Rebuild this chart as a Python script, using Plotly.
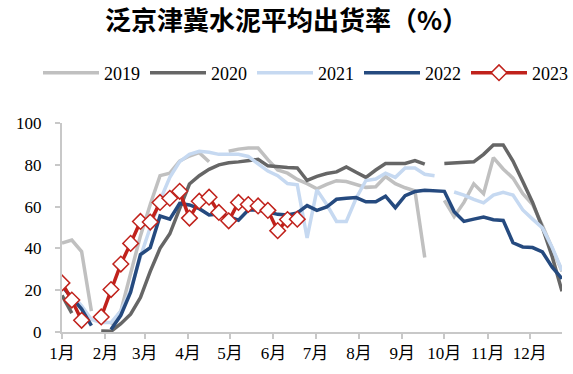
import datetime as dt
import plotly.graph_objects as go

# Weekly average cement shipment rate (%) for the greater Beijing-Tianjin-Hebei region.
# Each list holds one value per week, starting from the first week of January;
# None marks weeks with no survey (holidays), which leave a gap in the line.
years = ["2019", "2020", "2021", "2022", "2023"]

rate_2019 = [42.5, 44, 38.5, 10, None, 3.5, 10, 28, 46, 61,
             74.8, 76, 81.8, 84.2, 85.8, 81.5, None, 86.5, 87.5, 88,
             88, 82.5, 77.5, 76, 73, 71, 68.5, 70.6, 72.4, 72,
             70.6, 69.2, 69.5, 74.4, 71, 69, 67.5, 35.7, None, 63,
             55.2, 62, 70.9, 66.2, 83.4, 78, 73.6, 66.2, 61, 51,
             39.6, 29]

rate_2020 = [17.5, 9, None, None, 0.5, 0.3, 4, 8.5, 16.5, 29,
             40, 47, 59, 70.8, 74.8, 77.8, 80, 81, 81.4, 82,
             82.6, 79.5, 79, 78.7, 78.5, 72.5, 74.5, 75.8, 76.6, 79,
             76.4, 74, 77.5, 80.6, 80.6, 80.6, 82, 80.3, None, 80.6,
             81, 81.2, 81.4, 85, 89.5, 89.5, 81.8, 72, 62, 50,
             36, 19.5]

rate_2021 = [None, 18, 12.5, 6, 4.5, 4.5, 10, 20, 36, 50,
             63, 74, 81.5, 85, 86.5, 86, 85, 85, 85, 84,
             80.5, 77, 74.8, 71, 70.4, 45, 68, 61, 52.9, 52.9,
             64, 72.5, 73.2, 76, 74, 78.5, 78.5, 75.5, 74.8, None,
             67, 65.5, 63.5, 61.8, 65.5, 66.8, 65.5, 58.4, 54, 49.8,
             40.4, 29.4]

rate_2022 = [22, 16.5, 11, 3, None, 1.2, 8, 19, 37, 40.4,
             55.5, 54, 61.5, 60.8, 59, 56, 56.5, 55.2, 53.5, 58.4,
             58.4, 57.4, 56.3, 56, 57, 60.5, 58.2, 59.8, 63.5, 64,
             64.3, 62.3, 62.3, 65, 59.5, 65.2, 67.2, 67.8, 67.5, 67.3,
             57.6, 52.9, 54, 55, 53.7, 53.4, 42.7, 40.7, 40.4, 38.3,
             31, 25.5]

rate_2023 = [23.5, 15.3, 5.6, None, 7.2, 20.3, 32.5, 42.4, 52.9, 52.6,
             62, 64, 67.3, 54.5, 62.6, 64.5, 57.2, 53.2, 62, 61,
             60.3, 58.2, 48.5, 53.8, 54]

month_labels = ["1月", "2月", "3月", "4月", "5月", "6月",
                "7月", "8月", "9月", "10月", "11月", "12月"]

series = [rate_2019, rate_2020, rate_2021, rate_2022, rate_2023]
colors = ["#c0c0c0", "#666666", "#c6d9f1", "#254a7f", "#c0221c"]

# All years are laid on one common calendar so the seasons line up.
start = dt.date(2023, 1, 1)


def week_dates(n):
    return [start + dt.timedelta(days=7 * i) for i in range(n)]


fig = go.Figure()
for name, vals, col in zip(years, series, colors):
    is_current = name == "2023"
    fig.add_trace(go.Scatter(
        x=week_dates(len(vals)),
        y=vals,
        name=name,
        mode="lines+markers" if is_current else "lines",
        line=dict(color=col, width=3.5),
        marker=dict(symbol="diamond", size=12, color="white",
                    line=dict(color=col, width=1.5)),
        connectgaps=False,
    ))

month_starts = [dt.date(2023, m, 1) for m in range(1, 13)]
axis_grey = "#c8c8c8"
serif = "Liberation Serif, Times New Roman, Noto Sans CJK SC, serif"

fig.update_layout(
    width=573,
    height=374,
    margin=dict(l=62, r=11, t=123, b=38),
    paper_bgcolor="white",
    plot_bgcolor="white",
    title=dict(
        text="<b>泛京津冀水泥平均出货率（%）</b>",
        x=0.5, xanchor="center",
        y=1 - 21 / 374, yanchor="middle",
        font=dict(family="Noto Sans CJK SC", size=26, color="black"),
    ),
    # legend sits above the plot, starting left of the y axis, in one row
    legend=dict(
        orientation="h",
        x=-0.038, xanchor="left",
        y=(336 - 72) / 213, yanchor="middle",
        font=dict(family=serif, size=18, color="black"),
        itemwidth=56,
        tracegroupgap=0,
    ),
    showlegend=True,
    xaxis=dict(
        type="date",
        range=[dt.date(2023, 1, 1), dt.date(2023, 12, 24)],
        tickvals=month_starts,
        ticktext=month_labels,
        ticks="outside",
        ticklen=5,
        tickcolor=axis_grey,
        tickwidth=1.5,
        showline=True,
        linecolor=axis_grey,
        linewidth=2,
        showgrid=False,
        zeroline=False,
        tickfont=dict(family=serif, size=17, color="black"),
    ),
    yaxis=dict(
        range=[0, 100],
        tickvals=[0, 20, 40, 60, 80, 100],
        ticks="outside",
        ticklen=5,
        tickcolor=axis_grey,
        tickwidth=1.5,
        showline=True,
        linecolor=axis_grey,
        linewidth=2,
        showgrid=False,
        zeroline=False,
        ticklabelstandoff=10,
        tickfont=dict(family=serif, size=17, color="black"),
    ),
)

fig.write_html("out.html")
